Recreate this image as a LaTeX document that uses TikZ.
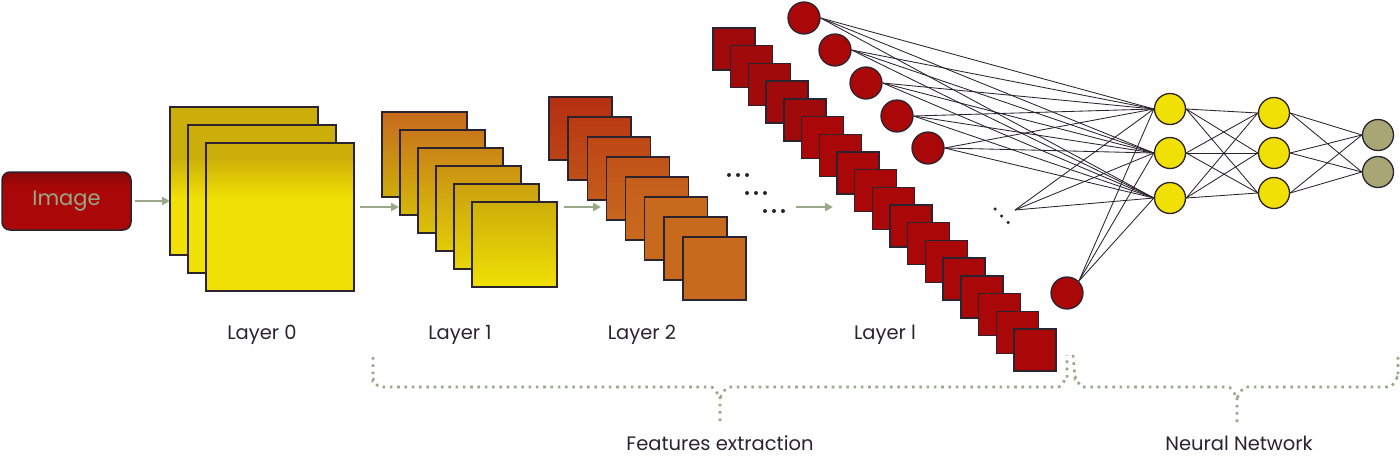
\documentclass[tikz,border=0pt]{standalone}
\usepackage{fontspec}
\setmainfont{Poppins}
\usetikzlibrary{arrows.meta}
\definecolor{dark}{HTML}{2B2330}
\definecolor{agreen}{HTML}{98A888}
\definecolor{cyellow}{HTML}{F0E004}
\definecolor{dyellow}{HTML}{CCAE0A}
\definecolor{corange}{HTML}{C86A1E}
\definecolor{cred}{HTML}{AA0808}
\definecolor{outgrey}{HTML}{A8A674}
\pgfdeclareverticalshading{imgshade}{100bp}{color(0bp)=(cred); color(62bp)=(cred); color(75bp)=(cred!80!black); color(100bp)=(cred!80!black)}
\begin{document}
\begin{tikzpicture}[x=1pt,y=-1pt,
  sq/.style={draw=dark, line width=1.4pt, inner sep=0pt, outer sep=0pt, anchor=north west, minimum size=#1},
  neuron/.style={circle, draw=dark, line width=1.3pt, inner sep=0pt, minimum size=#1},
  edge/.style={draw=dark, line width=0.85pt},
  arr/.style={draw=agreen, line width=2pt, -{Triangle[length=8pt,width=8pt]}},
  brace/.style={draw=agreen, line width=2.6pt, dash pattern=on 2.6pt off 4.7pt},
  lbl/.style={text=dark, font=\fontsize{19.5}{23}\selectfont, inner sep=0pt},
  dot/.style={circle, fill=dark, inner sep=0pt, minimum size=4pt}]
\useasboundingbox (0,0) rectangle (1400,469);

% Image box
\node[draw=dark, line width=1.5pt, rounded corners=8pt, shading=imgshade,
      minimum width=129pt, minimum height=58pt, inner sep=0pt,
      text=agreen, font=\fontsize{21}{25}\selectfont] (img) at (66.5,201) {Image};

% Layer 0 (common vertical gradient: dark yellow above y=157, bright yellow below y=197)
\foreach \k/\n in {0/a,1/b,2/c}{
  \pgfmathsetmacro\xa{170+18*\k}
  \pgfmathsetmacro\ya{107+18*\k}
  \fill[cyellow] (\xa,\ya) rectangle ++(148,148);
  \fill[dyellow] (\xa,\ya) rectangle (\xa+148,157);
  \foreach \s in {0,...,15}{
    \pgfmathtruncatemacro\p{100-6.25*\s}
    \fill[dyellow!\p!cyellow] (\xa,{157+2.5*\s}) rectangle ++(148,2.6);
  }
  \node[sq=148pt] (L0\n) at (\xa,\ya) {};
}
% Layer 1
\foreach \k in {0,...,5}{
  \pgfmathtruncatemacro\t{100-20*\k}
  \node[sq=85pt, top color=corange!\t!dyellow, bottom color=dyellow!\t!cyellow] (L1\k) at ({382+18*\k},{112+18*\k}) {};
}
% Layer 2
\foreach \k in {0,...,7}{
  \pgfmathtruncatemacro\ta{max(0,60-12*\k)}
  \pgfmathtruncatemacro\tb{max(0,40-12*\k)}
  \node[sq=63pt, top color=cred!\ta!corange, bottom color=cred!\tb!corange] (L2\k) at ({549+19.14*\k},{97+20*\k}) {};
}
% Layer l
\foreach \k in {0,...,17}{
  \pgfmathtruncatemacro\t{\k<5 ? 92 : 100}
  \node[sq=42pt, fill=cred!\t!dark] (Ll\k) at ({713+17.7*\k},{28+17.7*\k}) {};
}

% dots between layer 2 and layer l
\foreach \x/\y [count=\i] in {729/175,738/175,747/175,747/193,756/193,765/193,765/211,774/211,783/211}
  \node[dot] (d\i) at (\x,\y) {};

% arrows
\coordinate (a1e) at (170,201);
\draw[arr] ([xshift=3pt]img.east) -- (a1e);
\coordinate (a2s) at (360,207);
\coordinate (a2e) at (399,207);
\draw[arr] (a2s) -- (a2e);
\coordinate (a3s) at (564,207);
\coordinate (a3e) at (601,207);
\draw[arr] (a3s) -- (a3e);
\coordinate (a4s) at (796,207);
\coordinate (a4e) at (833,207);
\draw[arr] (a4s) -- (a4e);

% input neurons
\foreach \x/\y [count=\i] in {804/18,835/50,866/83,897/116,928/148,1067/293}
  \node[neuron=32pt, fill=cred] (i\i) at (\x,\y) {};
\coordinate (fan) at (1015,210);
\node[dot, minimum size=3.5pt] (f1) at (995,209) {};
\node[dot, minimum size=3.5pt] (f2) at (1001.5,216) {};
\node[dot, minimum size=3.5pt] (f3) at (1008,222.5) {};

% hidden layers
\foreach \y [count=\i] in {109,153,198}
  \node[neuron=31pt, fill=cyellow] (h\i) at (1170,\y) {};
\foreach \y [count=\i] in {113,153,193}
  \node[neuron=31pt, fill=cyellow] (g\i) at (1274,\y) {};
\foreach \y [count=\i] in {135,172}
  \node[neuron=31pt, fill=outgrey] (o\i) at (1378,\y) {};

% edges
\foreach \i in {1,...,5}
  \foreach \j in {1,2,3}
    \draw[edge] (i\i.east) -- (h\j.west);
\foreach \j in {1,2,3}{
  \draw[edge] (i6.north east) -- (h\j.west);
  \draw[edge] (fan) -- (h\j.west);
}
\foreach \i in {1,2,3}
  \foreach \j in {1,2,3}
    \draw[edge] (h\i.east) -- (g\j.west);
\foreach \i in {1,2,3}
  \foreach \j in {1,2}
    \draw[edge] (g\i.east) -- (o\j.west);

% labels
\node[lbl] (t0) at (262,335) {Layer 0};
\node[lbl] (t1) at (460,335) {Layer 1};
\node[lbl] (t2) at (642,335) {Layer 2};
\node[lbl] (tl) at (885,335) {Layer l};
\node[lbl] (tf) at (720,443) {Features extraction};
\node[lbl] (tn) at (1239,443) {Neural Network};

% braces
\draw[brace] (373,357) -- (373,380) to[out=90,in=180] (380,387) -- (711,387) to[out=0,in=-90] (720,396) -- (720,422);
\draw[brace] (720,396) to[out=-90,in=180] (729,387) -- (1058,387) to[out=0,in=90] (1067,378) -- (1067,355);
\draw[brace] (1073,355) -- (1075,378) to[out=90,in=180] (1083,387) -- (1228,387) to[out=0,in=-90] (1237,396) -- (1237,422);
\draw[brace] (1237,396) to[out=-90,in=180] (1246,387) -- (1389,387) to[out=0,in=90] (1398,378) -- (1398,352);
\end{tikzpicture}
\end{document}
